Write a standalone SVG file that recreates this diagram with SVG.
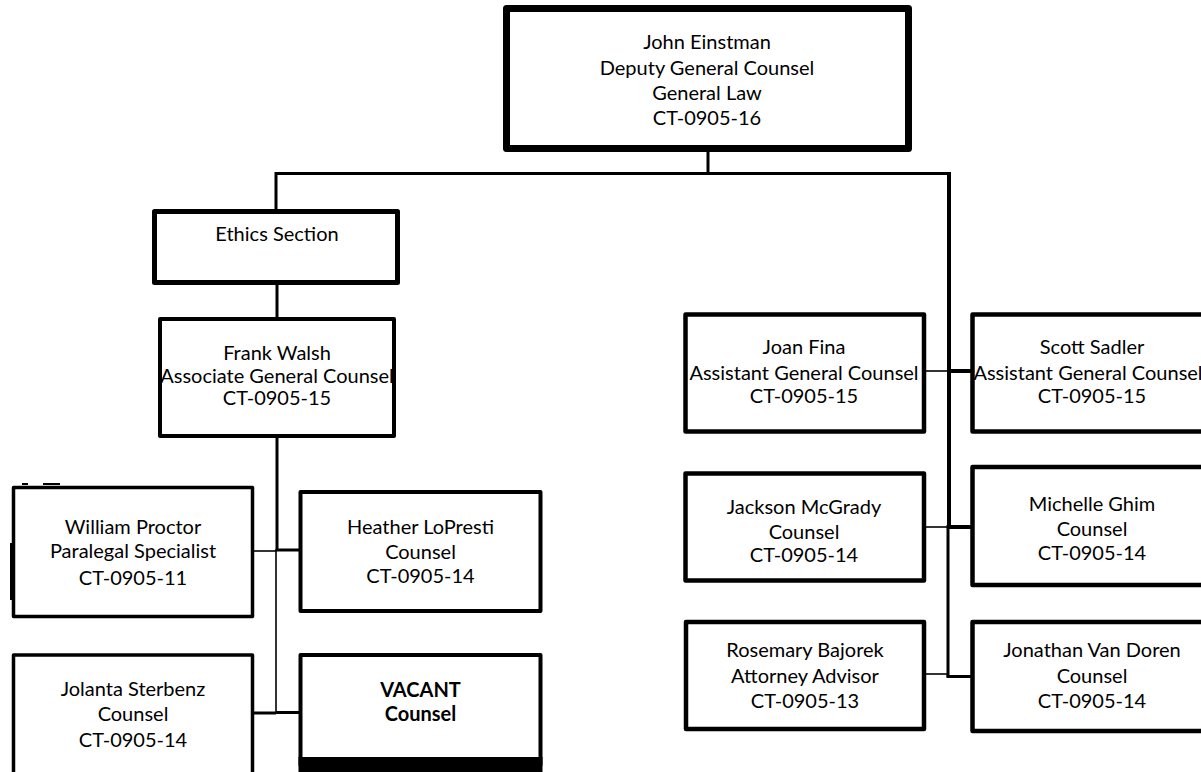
<svg xmlns="http://www.w3.org/2000/svg" width="1201" height="772" viewBox="0 0 1201 772">
  <style>
    .box { fill: #ffffff; stroke: #000000; stroke-width: 4.5; stroke-linejoin: round; }
    .txt { font-family: Lato, "Liberation Sans", sans-serif; font-size: 20px; fill: #000000; text-anchor: middle; }
    .bold { font-weight: bold; }
    .ln { fill: none; stroke: #000000; stroke-linecap: butt; }
    .thick { stroke-width: 4; }
    .mid { stroke-width: 3; }
    .thin { stroke-width: 1.6; }
  </style>
  <rect width="1201" height="772" fill="#ffffff"/>

  <!-- connectors -->
  <g id="connectors">
    <path class="ln mid" d="M708 150 V173.5"/>
    <path class="ln mid" d="M275 173.5 H949"/>
    <path class="ln mid" d="M276 172 V211"/>
    <path class="ln thick" d="M949 172 V527"/>
    <path class="ln mid" d="M948 525 V677"/>
    <path class="ln mid" d="M277 284 V319"/>
    <path class="ln mid" d="M277 436 V551"/>
    <path class="ln thin" d="M276 549 V713"/>
    <path class="ln thin" d="M253 551 H276"/>
    <path class="ln mid" d="M276 550 H301"/>
    <path class="ln mid" d="M253 713 H276"/>
    <path class="ln mid" d="M276 712.5 H301"/>
    <path class="ln thin" d="M924 371 H948"/>
    <path class="ln thick" d="M949 371 H973"/>
    <path class="ln thin" d="M924 527 H948"/>
    <path class="ln thick" d="M949 527 H973"/>
    <path class="ln thin" d="M924 674 H948"/>
    <path class="ln mid" d="M946.5 676.5 H973"/>
  </g>

  <!-- head of the division -->
  <g id="einstman">
    <rect class="box" x="506.5" y="8.5" width="402" height="140" style="stroke-width:7"/>
    <text class="txt" x="707" y="49">John Einstman</text>
    <text class="txt" x="707" y="74.5">Deputy General Counsel</text>
    <text class="txt" x="707" y="100">General Law</text>
    <text class="txt" x="707" y="125">CT-0905-16</text>
  </g>

  <!-- left branch -->
  <g id="ethics">
    <rect class="box" x="154.5" y="211.5" width="243" height="71" style="stroke-width:5"/>
    <text class="txt" x="277" y="241">Ethics Section</text>
  </g>

  <g id="walsh">
    <rect class="box" x="160" y="319" width="234" height="117" style="stroke-width:4"/>
    <text class="txt" x="277" y="360">Frank Walsh</text>
    <text class="txt" x="277" y="383">Associate General Counsel</text>
    <text class="txt" x="277" y="405">CT-0905-15</text>
  </g>

  <g id="proctor">
    <rect class="box" x="13.5" y="487.5" width="239" height="129" style="stroke-width:3.5"/>
    <rect x="10" y="543" width="3.5" height="57" fill="#000000"/>
    <rect x="22" y="483" width="6" height="2" fill="#000000"/>
    <rect x="43" y="483" width="17" height="2" fill="#000000"/>
    <text class="txt" x="133" y="534">William Proctor</text>
    <text class="txt" x="133" y="558">Paralegal Specialist</text>
    <text class="txt" x="133" y="585">CT-0905-11</text>
  </g>

  <g id="lopresti">
    <rect class="box" x="300.5" y="492" width="240" height="119" style="stroke-width:4"/>
    <text class="txt" x="420.5" y="534">Heather LoPresti</text>
    <text class="txt" x="420.5" y="559">Counsel</text>
    <text class="txt" x="420.5" y="583">CT-0905-14</text>
  </g>

  <g id="sterbenz">
    <rect class="box" x="13.5" y="655" width="239" height="200" style="stroke-width:3.5"/>
    <text class="txt" x="133" y="696">Jolanta Sterbenz</text>
    <text class="txt" x="133" y="721">Counsel</text>
    <text class="txt" x="133" y="747">CT-0905-14</text>
  </g>

  <g id="vacant">
    <rect class="box" x="300.5" y="655" width="240" height="110" style="stroke-width:4"/>
    <rect x="298.5" y="757" width="244" height="15" fill="#000000"/>
    <text class="txt bold" x="420.5" y="697">VACANT</text>
    <text class="txt bold" x="420.5" y="721">Counsel</text>
  </g>

  <!-- right branch -->
  <g id="fina">
    <rect class="box" x="685.5" y="314.5" width="238.5" height="117"/>
    <text class="txt" x="804" y="354">Joan Fina</text>
    <text class="txt" x="804" y="380">Assistant General Counsel</text>
    <text class="txt" x="804" y="403">CT-0905-15</text>
  </g>

  <g id="sadler">
    <rect class="box" x="972.5" y="314.5" width="280" height="117"/>
    <text class="txt" x="1092" y="354">Scott Sadler</text>
    <text class="txt" x="1088" y="380">Assistant General Counsel</text>
    <text class="txt" x="1092" y="403">CT-0905-15</text>
  </g>

  <g id="mcgrady">
    <rect class="box" x="685.5" y="473.5" width="238.5" height="107"/>
    <text class="txt" x="804" y="514">Jackson McGrady</text>
    <text class="txt" x="804" y="539">Counsel</text>
    <text class="txt" x="804" y="562">CT-0905-14</text>
  </g>

  <g id="ghim">
    <rect class="box" x="972.5" y="467" width="280" height="118"/>
    <text class="txt" x="1092" y="511">Michelle Ghim</text>
    <text class="txt" x="1092" y="536">Counsel</text>
    <text class="txt" x="1092" y="560">CT-0905-14</text>
  </g>

  <g id="bajorek">
    <rect class="box" x="686" y="622" width="238" height="107"/>
    <text class="txt" x="805" y="657">Rosemary Bajorek</text>
    <text class="txt" x="805" y="683">Attorney Advisor</text>
    <text class="txt" x="805" y="708">CT-0905-13</text>
  </g>

  <g id="vandoren">
    <rect class="box" x="972.5" y="622" width="280" height="109"/>
    <text class="txt" x="1092" y="657">Jonathan Van Doren</text>
    <text class="txt" x="1092" y="683">Counsel</text>
    <text class="txt" x="1092" y="708">CT-0905-14</text>
  </g>
</svg>
